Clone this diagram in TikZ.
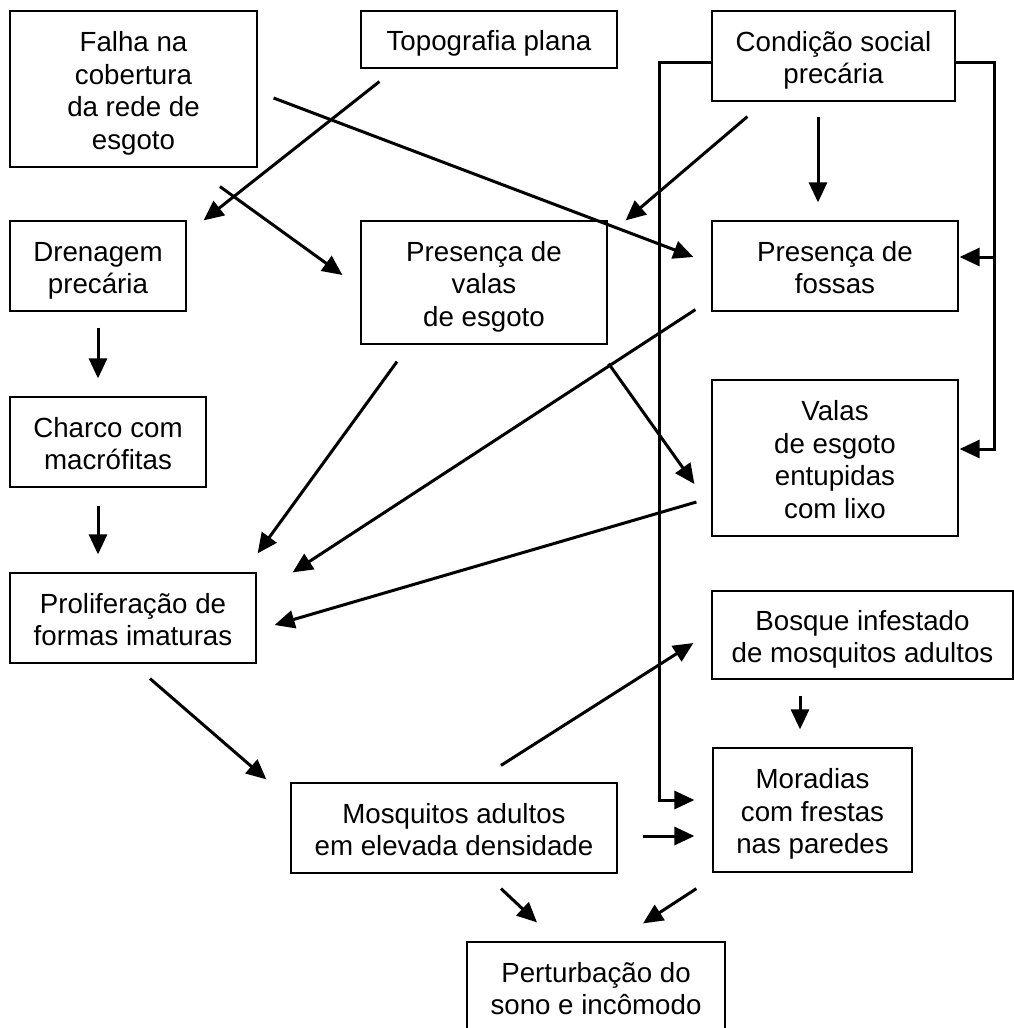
\documentclass[tikz,border=0pt]{standalone}
\usepackage{fontspec}
\setmainfont{Liberation Sans}
\usetikzlibrary{arrows.meta}
\usetikzlibrary{calc}
\newcommand{\boxfont}{\fontsize{27.7}{32.5}\selectfont}
\newcommand{\topstrut}{\rule{0pt}{30pt}}
\newcommand{\botstrut}{\rule[-7.2pt]{0pt}{0pt}}

\begin{document}
\begin{tikzpicture}[x=1pt,y=-1pt]

\tikzstyle{every node}=[font=\boxfont]
\tikzstyle{caixa}=[draw, line width=1.2pt, align=center, inner sep=0pt]
\tikzstyle{seta}=[line width=3pt, -{Triangle[length=20pt,width=18pt]}]

\useasboundingbox (0,0) rectangle (1014,1028);
\clip (0,0) rectangle (1014,1028);

\node[caixa, minimum width=247pt, minimum height=156pt] (falha) at (133.5,89)
	{\topstrut Falha na\\cobertura\\da rede de\\esgoto\botstrut};
\node[caixa, minimum width=256pt, minimum height=57pt] (topo) at (489,39.5)
	{\topstrut Topografia plana\botstrut};
\node[caixa, minimum width=243pt, minimum height=90pt] (cond) at (833.5,56)
	{\topstrut Condição social\\precária\botstrut};
\node[caixa, minimum width=176pt, minimum height=90pt] (dren) at (98,266)
	{\topstrut Drenagem\\precária\botstrut};
\node[caixa, minimum width=246pt, minimum height=123pt] (pvalas) at (484,282.5)
	{\topstrut Presença de\\valas\\de esgoto\botstrut};
\node[caixa, minimum width=246pt, minimum height=90pt] (fossas) at (835,266)
	{\topstrut Presença de\\fossas\botstrut};
\node[caixa, minimum width=246pt, minimum height=156pt] (entup) at (835,458)
	{\topstrut Valas\\de esgoto\\entupidas\\com lixo\botstrut};
\node[caixa, minimum width=196pt, minimum height=90pt] (charco) at (108,442)
	{\topstrut Charco com\\macrófitas\botstrut};
\node[caixa, minimum width=246pt, minimum height=90pt] (prolif) at (133,618)
	{\topstrut Proliferação de\\formas imaturas\botstrut};
\node[caixa, minimum width=301pt, minimum height=88pt] (bosque) at (862.5,635)
	{\topstrut Bosque infestado\\de mosquitos adultos\botstrut};
\node[caixa, minimum width=199pt, minimum height=124pt] (morad) at (812.5,810)
	{\topstrut Moradias\\com frestas\\nas paredes\botstrut};
\node[caixa, minimum width=326pt, minimum height=90pt] (mosq) at (454,828)
	{\topstrut Mosquitos adultos\\em elevada densidade\botstrut};
\node[caixa, minimum width=258pt, minimum height=90pt] (pert) at (596,987)
	{\topstrut Perturbação do\\sono e incômodo\botstrut};

\draw[seta] ($(topo.south west)+(19,13)$) -- ($(dren.north east)+(17,0)$);
\draw[seta] ($(falha.east)+(16,9)$) -- ($(fossas.west)+(-18,-9)$);
\draw[seta] ($(falha.south)+(86.5,19)$) -- ($(pvalas.west)+(-18,-7.5)$);
\draw[seta] ($(dren.south)+(0,16)$) -- ($(dren.south |- charco.north)+(0,-18)$);
\draw[seta] ($(charco.south)+(-10,18)$) -- ($(charco.south |- prolif.north)+(-10,-18)$);

\draw[seta] ($(cond.south west)+(36,15)$) -- ($(pvalas.north east)+(18,0)$);
\draw[seta] ($(cond.south)+(-15.5,15)$) -- ($(cond.south |- fossas.north)+(-15.5,-18)$);
\draw[seta] ($(cond.west)+(0,6)$) -- ++(-52,0) |- ($(morad.west)+(-18,-10)$);
\draw[seta] ($(cond.east)+(0,6)$) -- ++(39,0) |- ($(entup.east)+(1,-9)$);
\draw[seta] ($(fossas.east)+(36,-9)$) -- ($(fossas.east)+(1,-9)$);

\draw[seta] ($(pvalas.south)+(-87,17)$) -- ($(prolif.north east)+(1,-19)$);
\draw[seta] ($(fossas.south west)+(-16,-2)$) -- ($(prolif.north east)+(36,0)$);
\draw[seta] ($(pvalas.south east)+(1,19)$) -- ($(entup.west)+(-17,26)$);
\draw[seta] ($(entup.west)+(-15,44)$) -- ($(prolif.east)+(18,7)$);

\draw[seta] ($(prolif.south)+(17,15)$) -- ($(mosq.north west)+(-24,-3)$);
\draw[seta] ($(mosq.north)+(47,-17)$) -- ($(bosque.west)+(-18,8)$);
\draw[seta] ($(bosque.south)+(-62.5,16)$) -- ($(bosque.south |- morad.north)+(-62.5,-18)$);
\draw[seta] ($(mosq.east)+(25,8)$) -- ($(morad.west |- mosq.east)+(-18,8)$);
\draw[seta] ($(mosq.south)+(47,15)$) -- ($(pert.north)+(-59,-19)$);
\draw[seta] ($(morad.south west)+(-16,16)$) -- ($(pert.north)+(47,-18)$);

\end{tikzpicture}
\end{document}
